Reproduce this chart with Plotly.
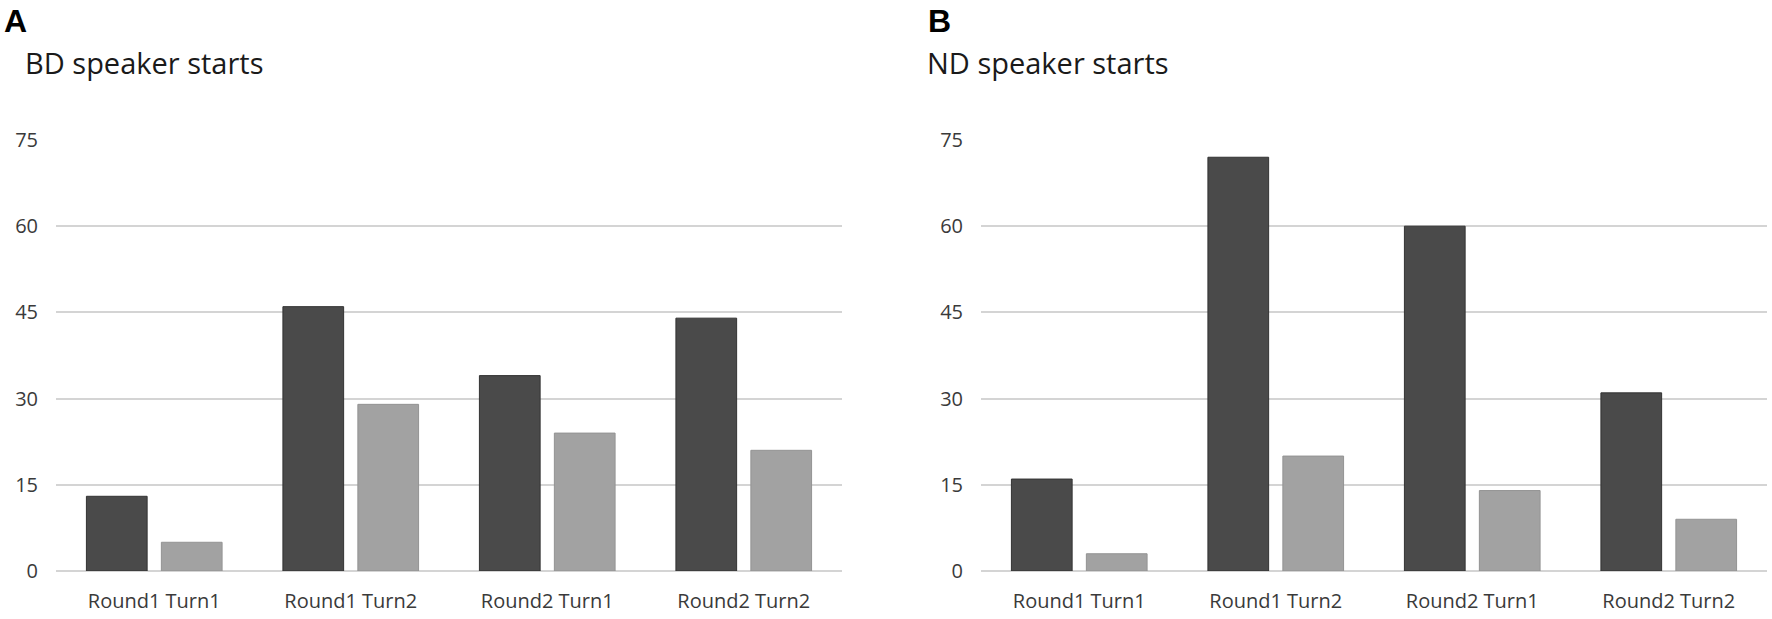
import plotly.graph_objects as go
from plotly.subplots import make_subplots

categories = ["Round1 Turn1", "Round1 Turn2", "Round2 Turn1", "Round2 Turn2"]
bd_dark = [13, 46, 34, 44]
bd_light = [5, 29, 24, 21]
nd_dark = [16, 72, 60, 31]
nd_light = [3, 20, 14, 9]
y_ticks = [0, 15, 30, 45, 60, 75]
panel_titles = ["BD speaker starts", "ND speaker starts"]
panel_letters = ["A", "B"]

W, H = 1772, 619
ML, MR, MT, MB = 56, 5, 140, 43
PW = W - ML - MR
PH = H - MT - MB

def px_x(x):
    return (x - ML) / PW

def px_y(y):
    return (H - MB - y) / PH

DARK = "#4a4a4a"
LIGHT = "#a2a2a2"
GRID = "#d4d4d4"
FONT = "Open Sans"

fig = make_subplots(rows=1, cols=2, horizontal_spacing=0.0812)

for col, (dark, light) in enumerate([(bd_dark, bd_light), (nd_dark, nd_light)], start=1):
    fig.add_trace(go.Bar(x=categories, y=dark, marker=dict(color=DARK, line=dict(color="#333333", width=1)),
                         showlegend=False, hoverinfo="skip"), row=1, col=col)
    fig.add_trace(go.Bar(x=categories, y=light, marker=dict(color=LIGHT, line=dict(color="#939393", width=1)),
                         showlegend=False, hoverinfo="skip"), row=1, col=col)

fig.update_layout(
    width=W, height=H,
    margin=dict(l=ML, r=MR, t=MT, b=MB),
    paper_bgcolor="white", plot_bgcolor="white",
    barmode="group", bargap=0.237, bargroupgap=0.19,
    font=dict(family=FONT, size=20, color="#3a3a3a"),
    showlegend=False,
)

fig.update_xaxes(domain=[0, 786 / PW], row=1, col=1)
fig.update_xaxes(domain=[925 / PW, 1], row=1, col=2)
fig.update_xaxes(showgrid=False, showline=False, zeroline=False,
                 ticks="outside", ticklen=12, tickcolor="rgba(0,0,0,0)",
                 tickfont=dict(family=FONT, size=20, color="#3a3a3a"))
fig.update_yaxes(range=[0, 75], tickvals=y_ticks, ticktext=[str(v) for v in y_ticks],
                 showgrid=True, gridcolor=GRID, gridwidth=1.5,
                 zeroline=True, zerolinecolor=GRID, zerolinewidth=1.5,
                 showline=False, ticks="", ticklabelstandoff=17,
                 tickfont=dict(family=FONT, size=20, color="#3a3a3a"))

annotations = []
title_x = [24, 926]
letter_x = [3, 927]
for i in range(2):
    annotations.append(dict(text=panel_letters[i], xref="paper", yref="paper",
                            x=px_x(letter_x[i]), y=px_y(0), xanchor="left", yanchor="top",
                            showarrow=False, borderpad=0,
                            font=dict(family="Liberation Sans", size=32, color="black", weight="bold")))
    annotations.append(dict(text=panel_titles[i], xref="paper", yref="paper",
                            x=px_x(title_x[i]), y=px_y(62), xanchor="left", yanchor="middle",
                            showarrow=False, borderpad=0,
                            font=dict(family=FONT, size=29, color="#1a1a1a")))
fig.update_layout(annotations=annotations)

fig.write_html("out.html", config={"displayModeBar": False},
               post_script="document.body.style.margin='0';")
